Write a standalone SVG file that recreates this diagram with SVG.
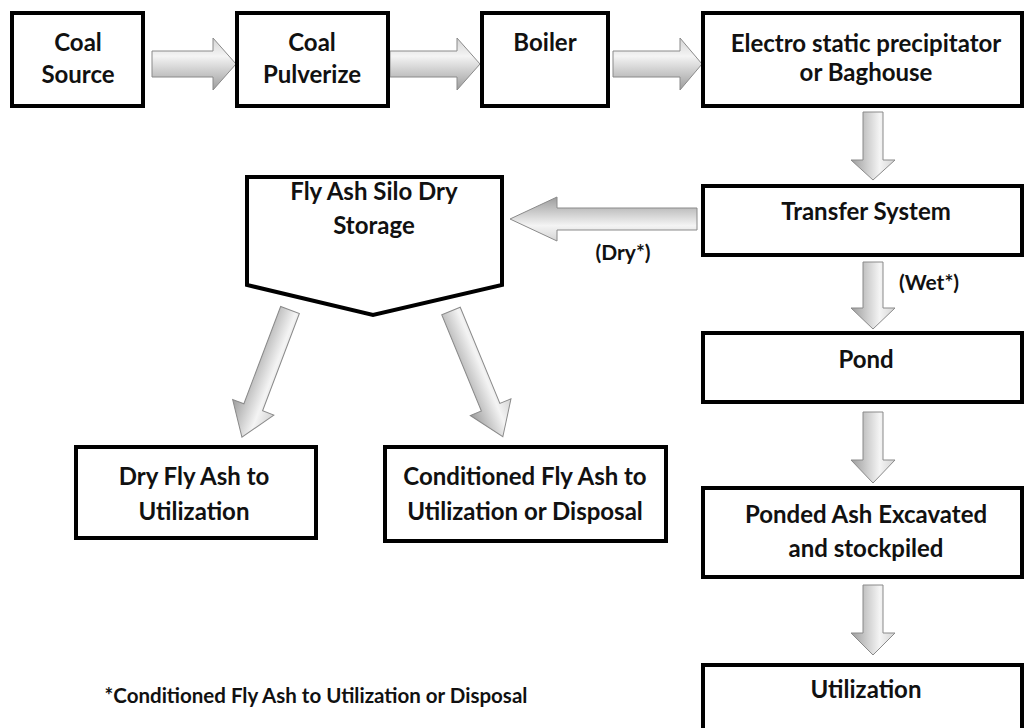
<svg xmlns="http://www.w3.org/2000/svg" width="1027" height="728" viewBox="0 0 1027 728">
<defs>
<linearGradient id="ag" x1="0" y1="0" x2="0" y2="1">
<stop offset="0" stop-color="#d4d4d4"/>
<stop offset="0.35" stop-color="#f4f4f4"/>
<stop offset="1" stop-color="#9c9c9c"/>
</linearGradient>
<style>
.box{fill:#fff;stroke:#000;stroke-width:4}
.arr{fill:url(#ag);stroke:#8a8a8a;stroke-width:1}
text{font-family:Lato,"Liberation Sans",sans-serif;font-weight:bold;fill:#111;text-anchor:middle}
.t{font-size:24px}
.s{font-size:21px}
.f{font-size:20.5px}
</style>
</defs>
<rect width="1027" height="728" fill="#fff"/>
<g id="connectors">
<path class="arr" transform="translate(152,64)" d="M0,-13 L61,-13 L61,-26 L84,0 L61,26 L61,13 L0,13 Z"/>
<path class="arr" transform="translate(390,64)" d="M0,-13 L67,-13 L67,-26 L90,0 L67,26 L67,13 L0,13 Z"/>
<path class="arr" transform="translate(613,64)" d="M0,-13 L67,-13 L67,-26 L89,0 L67,26 L67,13 L0,13 Z"/>
<path class="arr" transform="translate(873,112) rotate(90)" d="M0,-10 L48,-10 L48,-22 L68,0 L48,22 L48,10 L0,10 Z"/>
<path class="arr" transform="translate(873,262) rotate(90)" d="M0,-10 L46,-10 L46,-22 L67,0 L46,22 L46,10 L0,10 Z"/>
<path class="arr" transform="translate(873,412) rotate(90)" d="M0,-10 L48,-10 L48,-22 L71,0 L48,22 L48,10 L0,10 Z"/>
<path class="arr" transform="translate(873,585) rotate(90)" d="M0,-10 L48,-10 L48,-22 L70,0 L48,22 L48,10 L0,10 Z"/>
<path class="arr" transform="translate(697,219) rotate(180)" d="M0,-11 L140,-11 L140,-22 L187,0 L140,22 L140,11 L0,11 Z"/>
<path class="arr" transform="translate(290,310) rotate(110.7)" d="M0,-10 L104,-10 L104,-22 L136,0 L104,22 L104,10 L0,10 Z"/>
<path class="arr" transform="translate(451,311) rotate(67.6)" d="M0,-10 L104,-10 L104,-22 L136,0 L104,22 L104,10 L0,10 Z"/>
<text class="s" x="623" y="260">(Dry*)</text>
<text class="s" x="929" y="290">(Wet*)</text>
</g>
<g id="coal-source">
<rect class="box" x="12" y="13" width="131" height="93"/>
<text class="t" x="78" y="51">Coal</text>
<text class="t" x="78" y="83">Source</text>
</g>
<g id="coal-pulverize">
<rect class="box" x="237" y="13" width="151" height="93"/>
<text class="t" x="312" y="51">Coal</text>
<text class="t" x="312" y="83">Pulverize</text>
</g>
<g id="boiler">
<rect class="box" x="482" y="13" width="126" height="93"/>
<text class="t" x="545" y="51">Boiler</text>
</g>
<g id="esp">
<rect class="box" x="703" y="13" width="319" height="93"/>
<text class="t" x="866" y="52">Electro static precipitator</text>
<text class="t" x="866" y="81">or Baghouse</text>
</g>
<g id="transfer">
<rect class="box" x="703" y="186" width="319" height="69"/>
<text class="t" x="866" y="220">Transfer System</text>
</g>
<g id="silo">
<path class="box" d="M247,177 L502,177 L502,285 L373,315 L247,285 Z"/>
<text class="t" x="374" y="200">Fly Ash Silo Dry</text>
<text class="t" x="374" y="234">Storage</text>
</g>
<g id="pond">
<rect class="box" x="703" y="333" width="319" height="69"/>
<text class="t" x="866" y="368">Pond</text>
</g>
<g id="ponded">
<rect class="box" x="703" y="488" width="319" height="89"/>
<text class="t" x="866" y="523">Ponded Ash Excavated</text>
<text class="t" x="866" y="557">and stockpiled</text>
</g>
<g id="utilization">
<rect class="box" x="703" y="665" width="319" height="70"/>
<text class="t" x="866" y="698">Utilization</text>
</g>
<g id="dry-fly-ash">
<rect class="box" x="76" y="447" width="240" height="91"/>
<text class="t" x="194" y="485">Dry Fly Ash to</text>
<text class="t" x="194" y="520">Utilization</text>
</g>
<g id="conditioned">
<rect class="box" x="385" y="447" width="281" height="94"/>
<text class="t" x="525" y="485">Conditioned Fly Ash to</text>
<text class="t" x="525" y="520">Utilization or Disposal</text>
</g>
<g id="footnote">
<text class="f" x="316" y="703">*Conditioned Fly Ash to Utilization or Disposal</text>
</g>
</svg>
